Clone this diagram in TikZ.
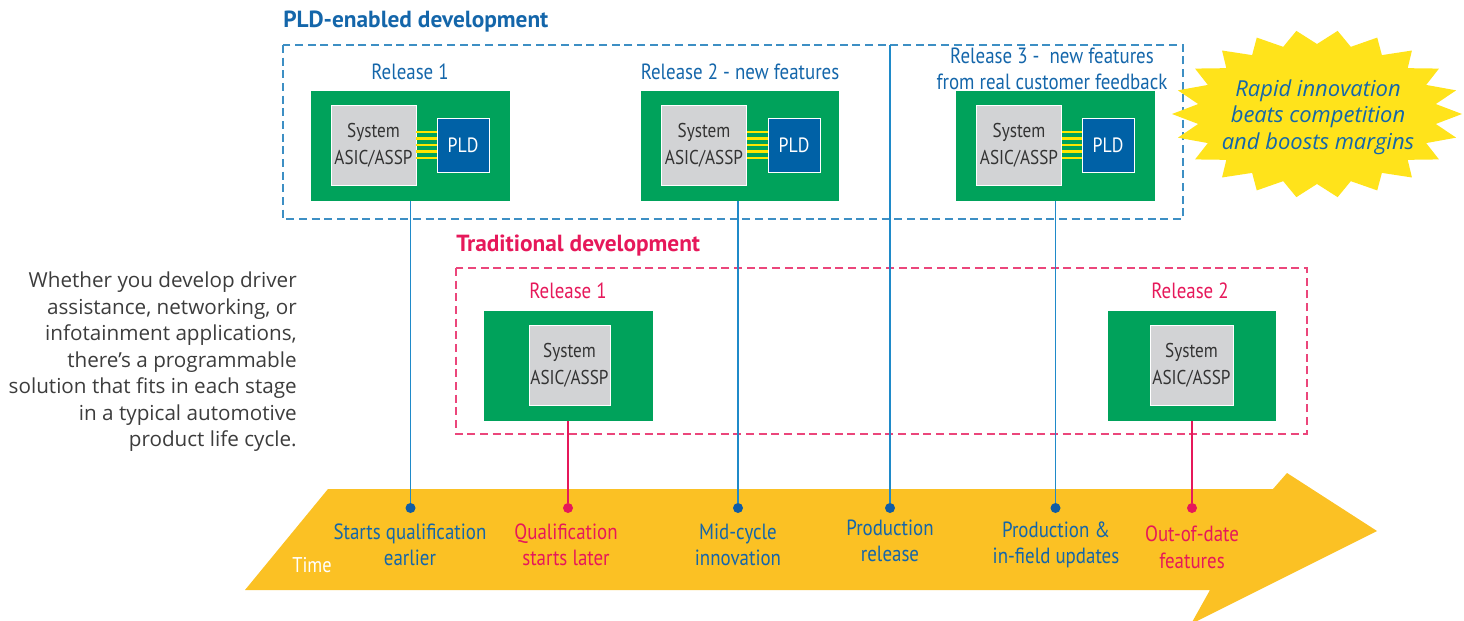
\documentclass[tikz,border=0pt]{standalone}
\usepackage{fontspec}
\setmainfont{PT Sans}
\newfontfamily\narrowfont[FakeStretch=0.86]{PT Sans}
\newfontfamily\widefont{Open Sans}

\definecolor{textblue}{HTML}{1466AA}
\definecolor{lineblue}{HTML}{1F8AC9}
\definecolor{dashblue}{HTML}{3D8FC4}
\definecolor{dotblue}{HTML}{0F5DA6}
\definecolor{tradred}{HTML}{E6185A}
\definecolor{boardgreen}{HTML}{00A25B}
\definecolor{chipgray}{HTML}{D2D3D5}
\definecolor{chiptext}{HTML}{333333}
\definecolor{pldfill}{HTML}{0061A6}
\definecolor{arrowyellow}{HTML}{FBC124}
\definecolor{burstyellow}{HTML}{FFE31B}
\definecolor{busyellow}{HTML}{FFE600}
\definecolor{introgray}{HTML}{3C3C3C}

\tikzset{
  board/.style={fill=boardgreen, minimum width=#1, minimum height=82.5pt, inner sep=0pt},
  chip/.style={fill=chipgray, draw=white, line width=0.6pt, minimum width=#1,
    minimum height=60pt, inner sep=0pt, align=center, text=chiptext,
    font=\narrowfont\fontsize{15}{20}\selectfont},
  pld/.style={fill=pldfill, draw=white, line width=0.6pt, minimum width=39pt,
    minimum height=40.5pt, inner sep=0pt, text=white,
    font=\narrowfont\fontsize{15.5}{16}\selectfont},
  bus/.style={draw=busyellow, line width=1.7pt},
  bdot/.style={circle, fill=dotblue, inner sep=0pt, minimum size=7.5pt},
  rdot/.style={circle, fill=tradred, inner sep=0pt, minimum size=7.5pt},
  lab/.style={align=center, inner sep=0pt, font=\narrowfont\fontsize{16.5}{19.5}\selectfont},
  blab/.style={lab, text=textblue},
  rlab/.style={lab, text=tradred},
  head/.style={anchor=west, inner sep=0pt, font=\bfseries\fontsize{17.5}{20}\selectfont},
}

\begin{document}
\begin{tikzpicture}[x=0.75pt, y=-0.75pt]
    \useasboundingbox (0,0) rectangle (1464,621);
    % time arrow
    \fill[arrowyellow] (245,590) -- (328,489) -- (1273,489) -- (1287,473)
        -- (1377,531) -- (1191,624) -- (1210,590) -- cycle;
    \node[inner sep=0pt, text=white, font=\narrowfont\fontsize{16}{18}\selectfont] (time) at (312,565) {Time};

    % dashed frames
    \draw[dashblue, line width=1.1pt, dash pattern=on 6pt off 3.5pt] (283,45) rectangle (1183,219);
    \draw[tradred!80, line width=1.1pt, dash pattern=on 6pt off 3.5pt] (456,268) rectangle (1307,434);
    \node[head, text=textblue] (pldtitle) at (283,22) {PLD-enabled development};
    \node[head, text=tradred] (tradtitle) at (456,246) {Traditional development};

    % PLD-enabled boards
    \node[board=149.25pt] (b1) at (410.5,146) {};
    \node[chip=63.75pt] (c1) at (373.5,145) {System\\ASIC/ASSP};
    \node[pld] (p1) at (463,145) {PLD};
    \node[board=148.5pt] (b2) at (740,146) {};
    \node[chip=63.75pt] (c2) at (704,145) {System\\ASIC/ASSP};
    \node[pld] (p2) at (794,145) {PLD};
    \node[board=149.25pt] (b3) at (1055.5,146) {};
    \node[chip=63.75pt] (c3) at (1019,145) {System\\ASIC/ASSP};
    \node[pld] (p3) at (1108,145) {PLD};
    \foreach \n in {1,2,3}
      \foreach \k in {-2,...,2}
        \draw[bus] ([yshift=\k*4.9pt]c\n.east) -- ([yshift=\k*4.9pt]p\n.west);
    \node[blab] (r1) at (410,72) {Release 1};
    \node[blab] (r2) at (740,72) {Release 2 - new features};
    \node[blab] (r3) at (1052,69) {Release 3 -\ \ new features\\from real customer feedback};

    % traditional boards
    \node[board=126.75pt] (t1) at (568.5,366) {};
    \node[chip=60.75pt] (tc1) at (569.5,365) {System\\ASIC/ASSP};
    \node[board=126pt] (t2) at (1192,366) {};
    \node[chip=62.25pt] (tc2) at (1191.5,365) {System\\ASIC/ASSP};
    \node[rlab] (tr1) at (568,291) {Release 1};
    \node[rlab] (tr2) at (1190,291) {Release 2};

    % milestones
    \coordinate (top) at (890,45);
    \node[bdot] (d1) at (410.5,508) {};
    \node[rdot] (e1) at (568,508) {};
    \node[bdot] (d2) at (738,508) {};
    \node[bdot] (d4) at (890,508) {};
    \node[bdot] (d3) at (1055.5,508) {};
    \node[rdot] (e2) at (1192,508) {};
    \draw[lineblue, line width=1.3pt] (b1.south) -- (d1);
    \draw[lineblue, line width=1.3pt] (b2.south -| d2) -- (d2);
    \draw[lineblue, line width=1.3pt] (b3.south) -- (d3);
    \draw[lineblue, line width=1.3pt] (top) -- (d4);
    \draw[tradred, line width=1.3pt] (t1.south -| e1) -- (e1);
    \draw[tradred, line width=1.3pt] (t2.south) -- (e2);

    \node[blab] (m1) at (410,545) {Starts qualification\\earlier};
    \node[rlab] (n1) at (566,545) {Qualification\\starts later};
    \node[blab] (m2) at (738,545) {Mid-cycle\\innovation};
    \node[blab] (m4) at (890,540.5) {Production\\release};
    \node[blab] (m3) at (1056,545) {Production \&\\in-field updates};
    \node[rlab, font=\narrowfont\fontsize{16.5}{20}\selectfont] (n2) at (1192,547) {Out-of-date\\features};

    % intro text
    \node[anchor=east, align=right, inner sep=0pt, text=introgray,
          font=\widefont\fontsize{15.5}{19.9}\selectfont] (intro) at (297,362)
        {Whether you develop driver\\assistance, networking, or\\infotainment applications,\\there’s a programmable\\solution that fits in each stage\\in a typical automotive\\product life cycle.};

    % starburst
    \fill[burstyellow] plot[domain=0:43, samples=44]
        ({1317+(145-25*mod(round(\x),2))*cos(\x*360/44)},
         {114+(84-14*mod(round(\x),2))*sin(\x*360/44)}) -- cycle;
    \node[align=center, inner sep=0pt, text=textblue,
          font=\widefont\itshape\fontsize{16.5}{20}\selectfont] (burst)
        at (1318,117) {Rapid innovation\\beats competition\\and boosts margins};
\end{tikzpicture}
\end{document}
